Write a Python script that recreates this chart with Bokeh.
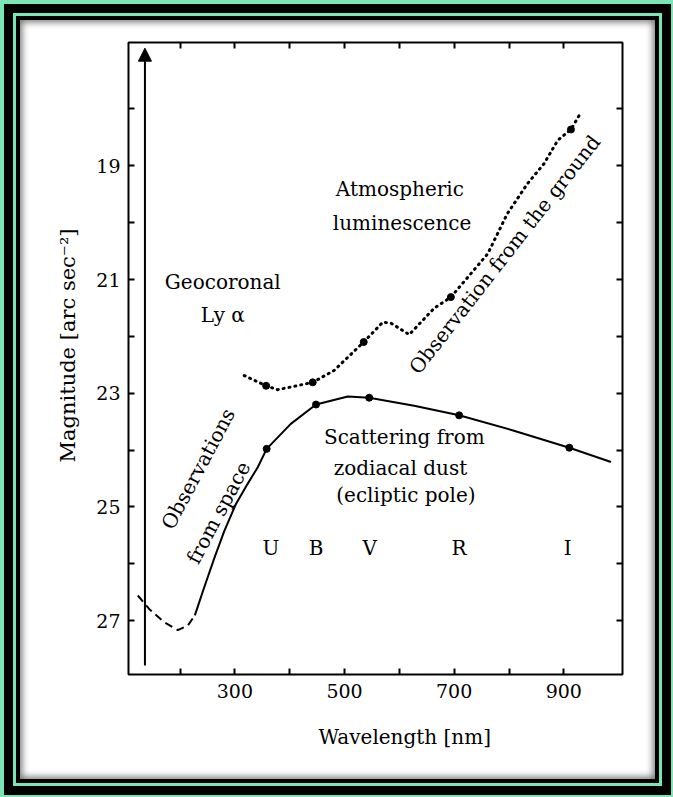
from bokeh.plotting import figure
from bokeh.models import Range1d, FixedTicker, LinearAxis, Label, Arrow, NormalHead, Title
from bokeh.embed import file_html
from bokeh.resources import INLINE

# ---------------- data ----------------
# far-UV part of the space curve (dashed)
uv_wl = [123, 144, 171, 196, 214, 227]
uv_mag = [26.56, 26.80, 27.03, 27.17, 27.09, 26.91]

# scattering from zodiacal dust, observations from space (solid)
dust_wl = [227, 244, 263, 281, 302, 323, 342, 358, 402, 448, 506, 545, 627, 709, 809, 910, 986]
dust_mag = [26.91, 26.42, 25.89, 25.42, 24.95, 24.60, 24.30, 23.98, 23.54, 23.20, 23.06,
            23.08, 23.22, 23.39, 23.66, 23.96, 24.21]

# observation from the ground, atmospheric luminescence (dotted)
ground_wl = [317, 357, 378, 442, 481, 535, 570, 585, 618, 663, 694, 761, 797, 834, 864, 889, 913, 930]
ground_mag = [22.69, 22.87, 22.94, 22.81, 22.60, 22.10, 21.75, 21.77, 21.97, 21.51, 21.31,
              20.55, 19.84, 19.31, 18.96, 18.55, 18.36, 18.08]

# photometric bands
band_names = ["U", "B", "V", "R", "I"]
band_label_wl = [366, 448, 546, 709, 907]
dust_band_wl = [358, 448, 545, 709, 910]
dust_band_mag = [23.98, 23.20, 23.08, 23.39, 23.96]
ground_band_wl = [357, 442, 535, 694, 913]
ground_band_mag = [22.87, 22.81, 22.10, 21.31, 18.36]

# geocoronal Ly alpha marker
lya_wl = 136
lya_mag_from = 27.79
lya_mag_to = 16.93

x_major = [300, 500, 700, 900]
x_minor = [200, 400, 600, 800]
y_major = [19, 21, 23, 25, 27]
y_minor = [18, 20, 22, 24, 26]
y_all = [18, 19, 20, 21, 22, 23, 24, 25, 26, 27]

FONT = "DejaVu Serif"

p = figure(width=635, height=759,
           x_range=Range1d(106, 1007), y_range=Range1d(27.95, 16.83),
           output_backend="svg", toolbar_location=None,
           x_axis_type=None, y_axis_type=None,
           min_border_left=108, min_border_right=33,
           min_border_top=22, min_border_bottom=105,
           background_fill_color="white", border_fill_color=None,
           outline_line_color="black", outline_line_width=2, outline_line_alpha=1)
p.margin = (20, 18, 18, 20)
p.styles = {
    "background-color": "white",
    "box-shadow": ("inset 0 0 7px 2px rgba(0,0,0,0.55), "
                   "0 0 0 4px #000, 0 0 0 7px #7ae6b6, "
                   "0 0 0 16px #000, 0 0 0 22px #7ae6b6"),
}


def style_axis(ax):
    ax.axis_line_color = None
    ax.major_tick_in = 6
    ax.major_tick_out = 0
    ax.minor_tick_in = 6
    ax.minor_tick_out = 0
    ax.major_tick_line_width = 2
    ax.minor_tick_line_width = 2
    ax.major_tick_line_color = "black"
    ax.minor_tick_line_color = "black"
    ax.major_label_text_font = FONT
    ax.major_label_text_font_size = "19px"
    ax.major_label_text_color = "black"


xb = LinearAxis(ticker=FixedTicker(ticks=x_major, minor_ticks=x_minor))
style_axis(xb)
xb.major_label_standoff = 9
p.add_layout(xb, "below")

yl = LinearAxis(ticker=FixedTicker(ticks=y_major, minor_ticks=y_minor))
style_axis(yl)
yl.major_label_standoff = 8
p.add_layout(yl, "left")

xt = LinearAxis(ticker=FixedTicker(ticks=[], minor_ticks=x_minor + x_major))
style_axis(xt)
p.add_layout(xt, "above")

yr = LinearAxis(ticker=FixedTicker(ticks=[], minor_ticks=y_all))
style_axis(yr)
p.add_layout(yr, "right")

# axis titles (off-centre, as in the original)
p.add_layout(Title(text="Wavelength [nm]", align="left", offset=190, standoff=44,
                   text_font=FONT, text_font_size="20px", text_font_style="normal",
                   text_color="black"), "below")
p.add_layout(Title(text="Magnitude [arc sec⁻²]", align="left", offset=212, standoff=28,
                   text_font=FONT, text_font_size="21px", text_font_style="normal",
                   text_color="black"), "left")

# curves
p.line(uv_wl, uv_mag, line_color="black", line_width=2, line_dash="8 5")
p.line(dust_wl, dust_mag, line_color="black", line_width=2)
p.line(ground_wl, ground_mag, line_color="black", line_width=3, line_dash="1 5", line_cap="round")
p.scatter(dust_band_wl, dust_band_mag, size=7, color="black")
p.scatter(ground_band_wl, ground_band_mag, size=7, color="black")

p.add_layout(Arrow(end=NormalHead(size=13, fill_color="black", line_color="black"),
                   x_start=lya_wl, y_start=lya_mag_from, x_end=lya_wl, y_end=lya_mag_to,
                   line_color="black", line_width=2))


def lab(x, y, text, angle=0, size="20px"):
    p.add_layout(Label(x=x, y=y, text=text, text_font=FONT, text_font_size=size,
                       text_color="black", text_align="center", text_baseline="middle",
                       angle=angle, angle_units="deg"))


lab(601, 19.40, "Atmospheric")
lab(605, 20.00, "luminescence")
lab(278, 21.05, "Geocoronal")
lab(278, 21.63, "Ly α")
lab(233, 24.33, "Observations", angle=62)
lab(270, 25.10, "from space", angle=62)
lab(792, 20.56, "Observation from the ground", angle=52)
lab(609, 23.77, "Scattering from")
lab(602, 24.31, "zodiacal dust")
lab(612, 24.80, "(ecliptic pole)")
for name, wl in zip(band_names, band_label_wl):
    lab(wl, 25.73, name)

open("out.html", "w").write(file_html(p, INLINE, title="Sky background"))
